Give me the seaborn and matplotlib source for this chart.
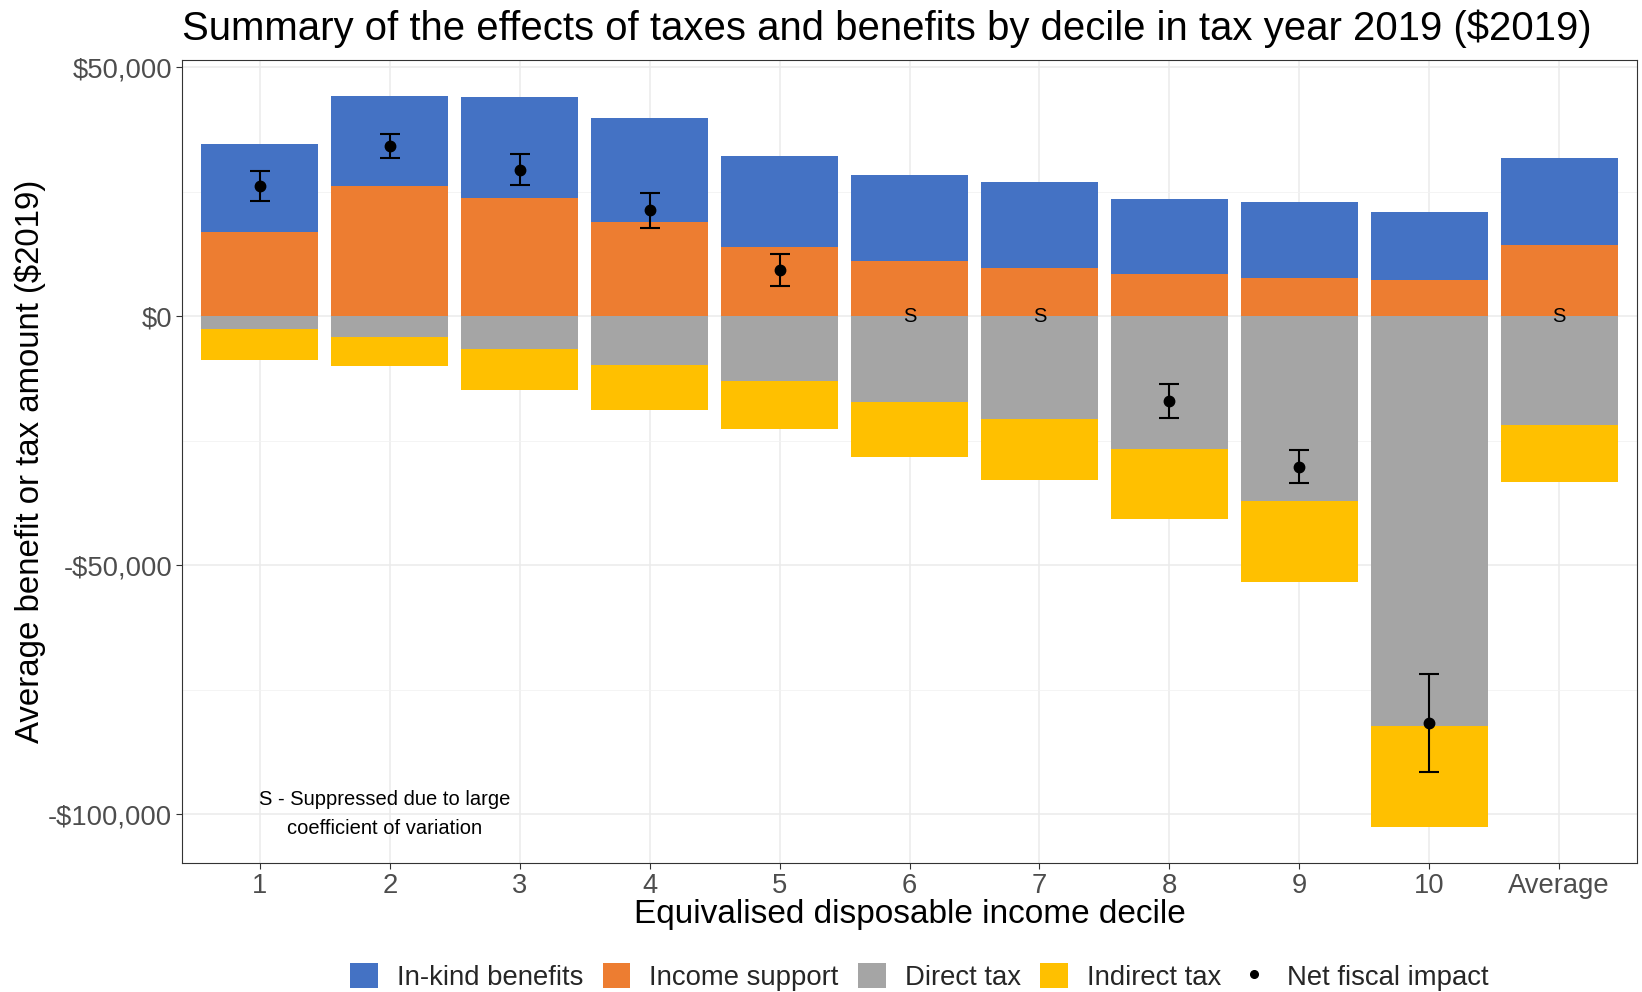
"""
Stacked bars of taxes and benefits by income decile, with the net
fiscal impact drawn as points with error bars on top.
"""

import numpy as np
import pandas as pd
import seaborn as sns
import matplotlib.pyplot as plt
from matplotlib.patches import Patch
from matplotlib.lines import Line2D
from matplotlib.ticker import FuncFormatter, MultipleLocator

# values, in dollars
deciles = ["1", "2", "3", "4", "5", "6", "7", "8", "9", "10", "Average"]
in_kind = [17700, 18100, 20400, 20900, 18200, 17300, 17100, 15000, 15200,
           13500, 17400]
income_support = [17000, 26200, 23700, 19000, 14000, 11100, 9800, 8500,
                  7800, 7400, 14400]
direct_tax = [-2500, -4100, -6600, -9700, -12900, -17200, -20700, -26700,
              -37000, -82200, -21900]
indirect_tax = [-6200, -5900, -8100, -9100, -9700, -11100, -12100, -13900,
                -16300, -20400, -11400]
net_impact = [26100, 34300, 29500, 21300, 9400, np.nan, np.nan, -16900,
              -30200, -81600, np.nan]
net_low = [23100, 31800, 26400, 17700, 6200, np.nan, np.nan, -20500,
           -33500, -91600, np.nan]
net_high = [29200, 36700, 32600, 24800, 12600, np.nan, np.nan, -13600,
            -26900, -71900, np.nan]

BLUE = "#4472C4"
ORANGE = "#ED7D31"
GREY = "#A5A5A5"
YELLOW = "#FFC000"

sns.set_theme(style="white")
plt.rcParams["font.family"] = ["Liberation Sans", "DejaVu Sans"]


def build_frame():
    """ Puts the read values into one dataframe with the stacked tops. """
    data = pd.DataFrame({
        "Decile": deciles,
        "InKind": in_kind,
        "IncomeSupport": income_support,
        "DirectTax": direct_tax,
        "IndirectTax": indirect_tax,
        "Net": net_impact,
        "Low": net_low,
        "High": net_high,
    })
    data["PositiveTop"] = data["IncomeSupport"] + data["InKind"]
    data["NegativeBottom"] = data["DirectTax"] + data["IndirectTax"]
    return data


def dollars(value, pos):
    if value < 0:
        return "-${:,.0f}".format(-value)
    return "${:,.0f}".format(value)


def plot_summary(data):
    fig, ax = plt.subplots(figsize=(16.42, 9.92), dpi=100)
    fig.subplots_adjust(left=0.1108, right=0.997, top=0.9395, bottom=0.130)

    # stacked bars, drawn as overlapping totals
    bar_args = dict(width=0.9, saturation=1, linewidth=0, errorbar=None,
                    ax=ax, order=deciles)
    sns.barplot(x="Decile", y="PositiveTop", data=data, color=BLUE,
                **bar_args)
    sns.barplot(x="Decile", y="IncomeSupport", data=data, color=ORANGE,
                **bar_args)
    sns.barplot(x="Decile", y="NegativeBottom", data=data, color=YELLOW,
                **bar_args)
    sns.barplot(x="Decile", y="DirectTax", data=data, color=GREY,
                **bar_args)

    # net fiscal impact with error bars
    pos = np.arange(len(deciles))
    shown = data["Net"].notna().values
    net = data["Net"].values
    err = np.vstack([net - data["Low"].values, data["High"].values - net])
    ax.errorbar(pos[shown], net[shown], yerr=err[:, shown], fmt="o",
                color="black", markersize=7.5, capsize=7, elinewidth=1.5,
                capthick=1.5, zorder=5)

    # suppressed values
    for i in pos[~shown]:
        ax.text(i, 0, "S", ha="center", va="center", fontsize=14.5,
                color="black", zorder=6)
    ax.text(0.96, -100000,
            "S - Suppressed due to large\ncoefficient of variation",
            ha="center", va="center", multialignment="center", fontsize=14.5,
            linespacing=1.65, color="black")

    # axes styling similar to theme_bw
    ax.set_xlim(-0.6, 10.6)
    ax.set_ylim(-109800, 51500)
    ax.yaxis.set_major_locator(MultipleLocator(50000))
    ax.yaxis.set_minor_locator(MultipleLocator(25000))
    ax.yaxis.set_major_formatter(FuncFormatter(dollars))
    ax.set_axisbelow(True)
    ax.grid(True, which="major", color="#EBEBEB", linewidth=1.1)
    ax.grid(True, which="minor", axis="y", color="#F2F2F2", linewidth=0.6)
    for spine in ax.spines.values():
        spine.set_color("#333333")
        spine.set_linewidth(0.8)
    ax.tick_params(axis="both", which="major", length=4, width=0.8,
                   color="#333333", labelsize=19.7, labelcolor="#4D4D4D",
                   left=True, bottom=True)
    ax.tick_params(axis="x", pad=3)
    ax.tick_params(axis="y", pad=3)
    ax.tick_params(which="minor", left=False)

    ax.set_xlabel("Equivalised disposable income decile", fontsize=24,
                  color="black")
    ax.xaxis.set_label_coords(0.5, -0.045)
    ax.xaxis.label.set_va("top")
    ax.set_ylabel("Average benefit or tax amount ($2019)", fontsize=23.8,
                  color="black")
    ax.yaxis.set_label_coords(-0.104, 0.5)
    ax.yaxis.label.set_va("center")

    fig.text(0.1108, 1 - 40 / 992,
             "Summary of the effects of taxes and benefits by decile in "
             "tax year 2019 ($2019)",
             fontsize=28.9, ha="left", va="baseline", color="black")

    handles = [
        Patch(facecolor=BLUE, edgecolor="none", label="In-kind benefits"),
        Patch(facecolor=ORANGE, edgecolor="none", label="Income support"),
        Patch(facecolor=GREY, edgecolor="none", label="Direct tax"),
        Patch(facecolor=YELLOW, edgecolor="none", label="Indirect tax"),
        Line2D([], [], marker="o", linestyle="none", color="black",
               markersize=5.5, label="Net fiscal impact"),
    ]
    fig.legend(handles=handles, loc="center", bbox_to_anchor=(0.56, 0.015),
               ncol=5, frameon=False, fontsize=19.8, handlelength=1.0,
               handleheight=1.0, handletextpad=0.7, columnspacing=0.7,
               borderaxespad=0, borderpad=0)

    fig.savefig("out.png", dpi=100)
    plt.close(fig)


def main():
    data = build_frame()
    plot_summary(data)


if __name__ == '__main__':
    main()
